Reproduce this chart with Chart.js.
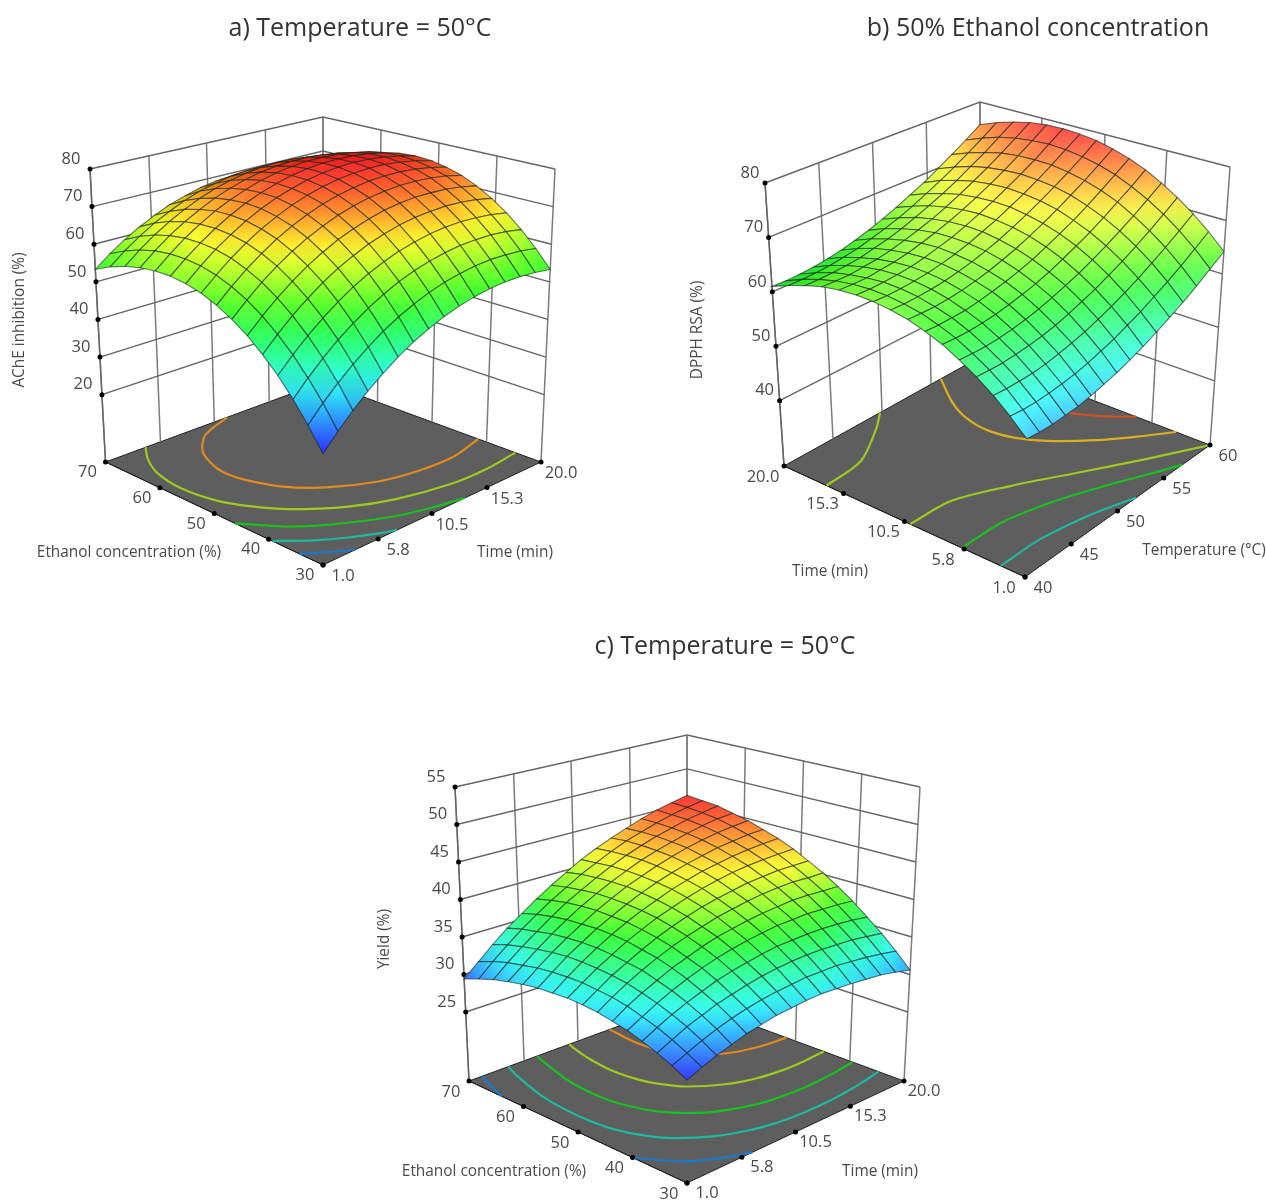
<!DOCTYPE html>
<html>
<head>
<meta charset="utf-8">
<title>Response surfaces</title>
<script src="https://cdn.jsdelivr.net/npm/chart.js@4"></script>
<style>
  html, body { margin: 0; background: #fff; }
  #page { position: relative; width: 1266px; height: 1200px; overflow: hidden; filter: blur(0.6px); }
  #page canvas { position: absolute; }
  .title { position: absolute; transform: translateX(-50%); white-space: nowrap;
           font: 25px 'Open Sans', sans-serif; color: #333; }
</style>
</head>
<body>
<div id="page">
  <div class="title" style="left:360px;top:9px">a) Temperature = 50°C</div>
  <div class="title" style="left:1038px;top:9px">b) 50% Ethanol concentration</div>
  <div class="title" style="left:725px;top:627px">c) Temperature = 50°C</div>
  <canvas id="chartA" width="640" height="520" style="left:0;top:80px"></canvas>
  <canvas id="chartB" width="626" height="530" style="left:640px;top:80px"></canvas>
  <canvas id="chartC" width="640" height="480" style="left:350px;top:720px"></canvas>
</div>
<script>
// --- axis nodes of the surface mesh ---
const gridTime = [1,2.27,3.53,4.8,6.07,7.33,8.6,9.87,11.13,12.4,13.67,14.93,16.2,17.47,18.73,20];
const gridEthanol = [30,32.67,35.33,38,40.67,43.33,46,48.67,51.33,54,56.67,59.33,62,64.67,67.33,70];
const gridTemperature = [40,41.33,42.67,44,45.33,46.67,48,49.33,50.67,52,53.33,54.67,56,57.33,58.67,60];

// --- tick values and labels ---
const timeTicks = [1,5.8,10.5,15.3,20];
const timeTickLabels = ['1.0','5.8','10.5','15.3','20.0'];
const ethanolTicks = [30,40,50,60,70];
const temperatureTicks = [40,45,50,55,60];
const achTicks = [20,30,40,50,60,70,80];
const dpphTicks = [40,50,60,70,80];
const yieldTicks = [25,30,35,40,45,50,55];

// --- a) AChE inhibition (%): one row per ethanol node, one column per time node ---
const achInhibition = [
[28.5,32.4,36,39.3,42.2,44.9,47.2,49.1,50.8,52.1,53.1,53.8,54.2,54.2,53.9,53.3],
[33.9,37.8,41.3,44.5,47.4,50,52.2,54.1,55.7,57,57.9,58.6,58.9,58.8,58.5,57.8],
[38.7,42.5,46,49.2,52,54.5,56.7,58.6,60.1,61.3,62.2,62.8,63,63,62.6,61.8],
[43.1,46.8,50.2,53.3,56.1,58.6,60.7,62.5,64,65.1,66,66.5,66.7,66.5,66.1,65.3],
[46.8,50.5,53.9,56.9,59.7,62.1,64.1,65.9,67.3,68.4,69.2,69.6,69.8,69.6,69.1,68.2],
[50.1,53.7,57,60,62.7,65,67.1,68.7,70.1,71.2,71.9,72.3,72.3,72.1,71.5,70.6],
[52.8,56.4,59.7,62.6,65.2,67.5,69.4,71.1,72.4,73.4,74,74.4,74.4,74.1,73.5,72.5],
[55,58.5,61.7,64.6,67.2,69.4,71.3,72.9,74.1,75,75.7,75.9,75.9,75.5,74.8,73.8],
[56.7,60.1,63.3,66.1,68.6,70.7,72.6,74.1,75.3,76.2,76.7,77,76.9,76.4,75.7,74.6],
[57.8,61.2,64.3,67,69.5,71.6,73.4,74.8,76,76.8,77.3,77.5,77.3,76.8,76,74.9],
[58.4,61.7,64.7,67.4,69.8,71.9,73.6,75,76.1,76.9,77.3,77.4,77.2,76.7,75.8,74.6],
[58.4,61.7,64.7,67.3,69.7,71.6,73.3,74.7,75.7,76.4,76.8,76.8,76.6,76,75.1,73.8],
[57.9,61.2,64.1,66.7,68.9,70.9,72.5,73.8,74.8,75.4,75.7,75.7,75.4,74.8,73.8,72.5],
[56.9,60.1,63,65.5,67.7,69.6,71.2,72.4,73.3,73.9,74.2,74.1,73.7,73,72,70.6],
[55.4,58.5,61.3,63.8,65.9,67.8,69.3,70.4,71.3,71.8,72,71.9,71.5,70.7,69.6,68.2],
[53.3,56.4,59.1,61.5,63.6,65.4,66.8,68,68.8,69.2,69.4,69.2,68.7,67.9,66.8,65.3]
];

// --- b) DPPH RSA (%): one row per time node, one column per temperature node ---
const dpphRsa = [
[51.1,50.9,50.9,51.1,51.3,51.8,52.4,53.1,54,55,56.2,57.5,58.9,60.5,62.3,64.2],
[53.8,53.6,53.6,53.8,54.1,54.5,55.1,55.9,56.7,57.8,58.9,60.3,61.7,63.3,65.1,67],
[56.2,56.1,56.1,56.2,56.5,57,57.6,58.3,59.2,60.2,61.4,62.7,64.2,65.8,67.6,69.5],
[58.3,58.2,58.2,58.4,58.7,59.1,59.7,60.5,61.4,62.4,63.6,64.9,66.4,68,69.8,71.7],
[60.1,60,60,60.2,60.5,61,61.6,62.4,63.3,64.3,65.5,66.8,68.3,69.9,71.7,73.6],
[61.7,61.6,61.6,61.8,62.1,62.6,63.2,63.9,64.8,65.9,67.1,68.4,69.9,71.6,73.3,75.3],
[62.9,62.8,62.9,63,63.4,63.9,64.5,65.2,66.1,67.2,68.4,69.7,71.2,72.9,74.7,76.6],
[63.9,63.8,63.8,64,64.3,64.8,65.4,66.2,67.1,68.2,69.4,70.8,72.3,73.9,75.7,77.6],
[64.5,64.4,64.5,64.7,65,65.5,66.1,66.9,67.8,68.9,70.1,71.5,73,74.6,76.4,78.4],
[64.9,64.8,64.9,65.1,65.4,65.9,66.5,67.3,68.3,69.3,70.6,71.9,73.4,75.1,76.9,78.8],
[65,64.9,65,65.2,65.5,66,66.7,67.4,68.4,69.5,70.7,72.1,73.6,75.2,77.1,79],
[64.8,64.7,64.7,65,65.3,65.8,66.5,67.3,68.2,69.3,70.5,71.9,73.4,75.1,76.9,78.9],
[64.3,64.2,64.2,64.5,64.8,65.3,66,66.8,67.7,68.8,70.1,71.5,73,74.7,76.5,78.5],
[63.4,63.4,63.5,63.7,64,64.6,65.2,66,67,68.1,69.3,70.7,72.3,73.9,75.8,77.7],
[62.3,62.3,62.4,62.6,63,63.5,64.2,65,65.9,67,68.3,69.7,71.2,72.9,74.7,76.7],
[61,60.9,61,61.2,61.6,62.1,62.8,63.6,64.6,65.7,67,68.3,69.9,71.6,73.4,75.4]
];

// --- c) Yield (%): one row per ethanol node, one column per time node ---
const yieldPct = [
[28.1,28.9,29.6,30.2,30.8,31.2,31.6,31.8,32,32.1,32,31.9,31.7,31.5,31.1,30.6],
[29.1,29.9,30.7,31.4,32,32.5,32.9,33.2,33.4,33.6,33.6,33.6,33.4,33.2,32.9,32.5],
[29.9,30.8,31.7,32.4,33.1,33.6,34.1,34.5,34.8,35,35.1,35.1,35,34.9,34.6,34.3],
[30.6,31.6,32.5,33.3,34,34.7,35.2,35.6,36,36.3,36.4,36.5,36.5,36.4,36.2,35.9],
[31.2,32.2,33.2,34.1,34.9,35.6,36.2,36.7,37.1,37.4,37.7,37.8,37.9,37.8,37.7,37.5],
[31.6,32.8,33.8,34.7,35.6,36.3,37,37.6,38,38.4,38.7,38.9,39.1,39.1,39,38.9],
[32,33.2,34.3,35.3,36.2,37,37.7,38.3,38.9,39.3,39.7,40,40.2,40.3,40.2,40.2],
[32.2,33.4,34.6,35.6,36.6,37.5,38.3,39,39.6,40.1,40.5,40.9,41.1,41.3,41.3,41.3],
[32.3,33.6,34.8,35.9,37,37.9,38.8,39.5,40.2,40.8,41.3,41.7,42,42.2,42.3,42.4],
[32.2,33.6,34.9,36.1,37.2,38.2,39.1,39.9,40.7,41.3,41.9,42.3,42.7,43,43.2,43.3],
[32.1,33.5,34.9,36.1,37.3,38.3,39.3,40.2,41,41.7,42.3,42.8,43.3,43.6,43.9,44],
[31.8,33.3,34.7,36,37.2,38.4,39.4,40.4,41.2,42,42.7,43.3,43.8,44.2,44.5,44.7],
[31.4,32.9,34.4,35.8,37.1,38.3,39.4,40.4,41.3,42.2,42.9,43.5,44.1,44.6,45,45.2],
[30.9,32.5,34,35.4,36.8,38.1,39.2,40.3,41.3,42.2,43,43.7,44.3,44.9,45.3,45.7],
[30.2,31.9,33.5,35,36.4,37.7,38.9,40.1,41.1,42.1,43,43.7,44.4,45,45.5,45.9],
[29.4,31.1,32.8,34.4,35.8,37.2,38.5,39.7,40.9,41.9,42.8,43.6,44.4,45.1,45.6,46.1]
];

// --- floor contours as [first axis, second axis] ---
const achContour1 = [[1,34.3],[1.95,32.8],[2.9,31.3],[3.85,30.1]];
const achContour2 = [[1,39.3],[2.9,35.7],[4.8,32.9],[6.7,30.7],[7.46,30]];
const achContour3 = [[1,46.2],[2.9,41.2],[4.8,37.8],[8.6,33.1],[11.45,31],[13.35,30]];
const achContour4 = [[4.5,70],[3.4,67.3],[2.4,63.5],[1.95,58],[2.4,52.3],[3.4,48.2],[4.8,44.3],[7.65,39.4],[10.5,36.4],[14.3,34.3],[17.15,34],[20,34.7]];
const achContour5 = [[11.6,70],[8.6,67.7],[6.7,64.1],[5.75,59.9],[5.56,57.2],[5.75,54.5],[6.7,49.9],[8.6,45.5],[11.45,41.9],[14.3,40.3],[17.15,40],[20,41.5]];

const dpphContour1 = [[40,2.9],[44,2.87],[48,2.22],[50,1.67],[52,1]];
const dpphContour2 = [[40,5.96],[44,5.9],[48,4.97],[52,3.4],[56,1.47],[57,1]];
const dpphContour3 = [[40,10.05],[44,9.84],[48,8.12],[52,5.85],[56,3.42],[60,1]];
const dpphContour3b = [[40,16.65],[44,17],[48,18.88],[49.8,20]];
const dpphContour4 = [[56,20],[54,17.47],[53,15.6],[52.6,13.59],[53,11.54],[54,9.76],[56,7.4],[58,5.53],[60,3.8]];
const dpphContour5 = [[60,7.11],[59,8.46],[58,10.25],[57.5,11.45],[57.2,13.64],[57.5,15.9],[58,17.13],[59,18.96],[59.6,20]];

const yieldContour1 = [[1,39.8],[2.9,34.6],[4.8,31.8],[6.7,30]];
const yieldContour1b = [[2.14,70],[1.48,66.7],[1,63.9]];
const yieldContour2 = [[4.42,70],[3.85,67.1],[2.9,60.3],[2.62,53.6],[2.9,47.5],[3.85,42.7],[4.8,40],[6.7,36.8],[8.6,34.9],[10.5,33.8],[12.4,33.3],[14.3,33.2],[16.2,33.4],[18.1,33.9],[20,34.7]];
const yieldContour3 = [[6.94,70],[6.7,68.7],[5.75,61.5],[5.56,56.7],[5.75,52.4],[6.7,47.1],[8.6,42.7],[10.5,40.5],[12.4,39.2],[14.3,38.7],[16.2,38.6],[18.1,38.9],[20,39.5]];
const yieldContour4 = [[9.74,70],[9.55,68.9],[9.08,65],[8.84,60.4],[9.08,55.9],[9.55,53.1],[10.5,50],[12.4,46.9],[14.3,45.3],[16.2,44.6],[18.1,44.5],[20,44.8]];
const yieldContour5 = [[13.26,70],[12.97,64.4],[13.35,59.3],[14.3,56.1],[16.2,53.3],[18.1,52.1],[20,51.7]];

// --- colours ---
const BLUE_C = '#1c78c8', TEAL_C = '#1fb8a0', GREEN_C = '#18c020', LIME_C = '#a0c820', GOLD_C = '#d8b020', ORANGE_C = '#e08a20', RED_C = '#d85020';
const RAMP = [[0,0,255],[0,255,255],[0,255,0],[255,255,0],[255,0,0]];

// page-pixel frame of each box (corners of floor and lid), style only
const panels = [
  {
    canvas: 'chartA', left: 0, top: 80, width: 640, height: 520,
    xGrid: gridTime, yGrid: gridEthanol, surface: achInhibition,
    xTicks: timeTicks, xTickLabels: timeTickLabels, yTicks: ethanolTicks, yTickLabels: ethanolTicks.map(String),
    zTicks: achTicks, zFloor: 2.1, zTop: 80, colorMin: 28.5, colorMax: 77.5, gloss: 0.18,
    floor: { front: [323,565], right: [541,462], back: [323,382], left: [105.5,462] },
    lid:   { front: [323,237], right: [555,169], back: [323,117], left: [90,169] },
    contours: [[achContour1,BLUE_C],[achContour2,TEAL_C],[achContour3,GREEN_C],[achContour4,LIME_C],[achContour5,ORANGE_C]],
    leftOffset: [-18,10.5], rightOffset: [20,11.5], zOffset: [-19,-10],
    titles: [['Ethanol concentration (%)',129,553,0],['Time (min)',515,553,0],['AChE inhibition (%)',20,320,-90]]
  },
  {
    canvas: 'chartB', left: 640, top: 80, width: 626, height: 530,
    xGrid: gridTemperature, yGrid: gridTime, surface: dpphRsa,
    xTicks: temperatureTicks, xTickLabels: temperatureTicks.map(String), yTicks: timeTicks, yTickLabels: timeTickLabels,
    zTicks: dpphTicks, zFloor: 28, zTop: 80, colorMin: 45, colorMax: 79, gloss: 0.3,
    floor: { front: [1025,577], right: [1210,445], back: [980,357], left: [784,466] },
    lid:   { front: [1029,266], right: [1230,167], back: [980,102], left: [765,183] },
    contours: [[dpphContour1,TEAL_C],[dpphContour2,GREEN_C],[dpphContour3,LIME_C],[dpphContour3b,LIME_C],[dpphContour4,GOLD_C],[dpphContour5,RED_C]],
    leftOffset: [-21,11], rightOffset: [18,11], zOffset: [-15,-10],
    titles: [['Time (min)',830,572,0],['Temperature (°C)',1204,551,0],['DPPH RSA (%)',698,330,-90]]
  },
  {
    canvas: 'chartC', left: 350, top: 720, width: 640, height: 480,
    xGrid: gridTime, yGrid: gridEthanol, surface: yieldPct,
    xTicks: timeTicks, xTickLabels: timeTickLabels, yTicks: ethanolTicks, yTickLabels: ethanolTicks.map(String),
    zTicks: yieldTicks, zFloor: 15.8, zTop: 55, colorMin: 28.1, colorMax: 46.1, gloss: 0.22,
    floor: { front: [687,1183], right: [904,1081], back: [687,1001], left: [469,1081] },
    lid:   { front: [687,855], right: [920,787], back: [687,735], left: [455,787] },
    contours: [[yieldContour1,BLUE_C],[yieldContour1b,BLUE_C],[yieldContour2,TEAL_C],[yieldContour3,GREEN_C],[yieldContour4,LIME_C],[yieldContour5,ORANGE_C]],
    leftOffset: [-18,11], rightOffset: [20,10.5], zOffset: [-19,-10],
    titles: [['Ethanol concentration (%)',494,1172,0],['Time (min)',880,1172,0],['Yield (%)',385,939,-90]]
  }
];

// ─── Helpers ───
function bilinear(q, u, v, k) {
  return q.front[k]*(1-u)*(1-v) + q.right[k]*u*(1-v) + q.left[k]*(1-u)*v + q.back[k]*u*v;
}

// value triple -> point in the hidden page-pixel scales
function project(p, xVal, yVal, zVal) {
  const xs = p.xGrid, ys = p.yGrid;
  const u = (xVal - xs[0]) / (xs[xs.length-1] - xs[0]);
  const v = (yVal - ys[0]) / (ys[ys.length-1] - ys[0]);
  const w = (zVal - p.zFloor) / (p.zTop - p.zFloor);
  const fx = bilinear(p.floor,u,v,0), fy = bilinear(p.floor,u,v,1);
  return { x: fx + w*(bilinear(p.lid,u,v,0)-fx), y: fy + w*(bilinear(p.lid,u,v,1)-fy) };
}

function polyArea(pts) {
  let a = 0;
  for (let i = 0; i < pts.length-1; i++) a += pts[i].x*pts[i+1].y - pts[i+1].x*pts[i].y;
  return Math.abs(a)/2;
}

function rampColor(t, lit, gloss) {
  const s = Math.max(0, Math.min(0.9999, t)) * (RAMP.length-1);
  const i = Math.floor(s), f = s - i;
  const rgb = RAMP[i].map((c,k) => c + (RAMP[i+1][k]-c)*f);
  const out = rgb.map(c => {
    const d = c*(0.8 + 0.2*lit);
    return Math.round(d + (255-d)*gloss*lit);
  });
  return `rgb(${out[0]},${out[1]},${out[2]})`;
}

function line(data, color, width, extra) {
  return Object.assign({ data, borderColor: color, borderWidth: width, pointRadius: 0, fill: false, clip: false, tension: 0 }, extra);
}

// ─── Build one panel's datasets, back to front ───
function buildDatasets(p, ctx) {
  const xs = p.xGrid, ys = p.yGrid, xMin = xs[0], xMax = xs[xs.length-1], yMin = ys[0], yMax = ys[ys.length-1];
  const list = [];
  const onFloor = (a,b) => project(p,a,b,p.zFloor);

  // floor
  const floorPts = [onFloor(xMin,yMin),onFloor(xMax,yMin),onFloor(xMax,yMax),onFloor(xMin,yMax),onFloor(xMin,yMin)];
  list.push(line(floorPts,'#222',1,{ fill:'shape', backgroundColor:'#5e5e5e' }));

  // back walls
  const wall = '#7c7c7c';
  p.xTicks.forEach(t => list.push(line([onFloor(t,yMax), project(p,t,yMax,p.zTop)], wall, 1.5)));
  p.yTicks.forEach(t => list.push(line([onFloor(xMax,t), project(p,xMax,t,p.zTop)], wall, 1.5)));
  p.zTicks.forEach(z => list.push(line([project(p,xMin,yMax,z), project(p,xMax,yMax,z), project(p,xMax,yMin,z)], '#666', 1.4)));
  list.push(line([onFloor(xMin,yMin), project(p,xMin,yMax,p.zFloor)], '#222', 1));
  list.push(line([onFloor(xMin,yMax), project(p,xMin,yMax,p.zTop)], '#666', 1.4));

  // contours on the floor
  p.contours.forEach(([pts,color]) => {
    list.push(line(pts.map(c => onFloor(c[0],c[1])), color, 2.2, { tension: 0.3 }));
  });

  // tick marks
  const dots = p.zTicks.map(z => project(p,xMin,yMax,z));
  p.xTicks.forEach(t => dots.push(onFloor(t,yMin)));
  p.yTicks.forEach(t => dots.push(onFloor(xMin,t)));
  list.push(line(dots,'#000',0,{ showLine:false, pointRadius:2.5, pointBackgroundColor:'#000', pointBorderWidth:0 }));

  // surface cells, far corner first; colour runs from the lowest to the highest corner
  const cells = [];
  for (let j = 0; j < ys.length-1; j++) for (let i = 0; i < xs.length-1; i++) cells.push([i,j]);
  cells.sort((a,b) => (b[0]+b[1]) - (a[0]+a[1]));
  const toRamp = v => (v-p.colorMin)/(p.colorMax-p.colorMin);
  cells.forEach(([i,j]) => {
    const z = p.surface;
    const vals = [z[j][i], z[j][i+1], z[j+1][i+1], z[j+1][i]];
    const pts = [project(p,xs[i],ys[j],vals[0]), project(p,xs[i+1],ys[j],vals[1]),
                 project(p,xs[i+1],ys[j+1],vals[2]), project(p,xs[i],ys[j+1],vals[3])];
    const lo = vals.indexOf(Math.min(...vals)), hi = vals.indexOf(Math.max(...vals));
    const grad = ctx.createLinearGradient(pts[lo].x-p.left, pts[lo].y-p.top, pts[hi].x-p.left, pts[hi].y-p.top);
    pts.push(pts[0]);
    const flat = [onFloor(xs[i],ys[j]),onFloor(xs[i+1],ys[j]),onFloor(xs[i+1],ys[j+1]),onFloor(xs[i],ys[j+1])];
    flat.push(flat[0]);
    const lit = Math.min(1, polyArea(pts)/polyArea(flat));
    grad.addColorStop(0, rampColor(toRamp(vals[lo]),lit,p.gloss));
    grad.addColorStop(1, rampColor(toRamp(vals[hi]),lit,p.gloss));
    list.push(line(pts,'rgba(25,35,30,0.62)',1.1,{ fill:'shape', backgroundColor: grad }));
  });

  // chart.js paints dataset 0 last
  return list.reverse();
}

// ─── Tick labels and axis titles ───
function labelPlugin(p) {
  return {
    id: 'panelLabels',
    afterDraw(chart) {
      const { ctx, scales } = chart;
      const put = (text, x, y, angle) => {
        ctx.save();
        ctx.translate(scales.x.getPixelForValue(x), scales.y.getPixelForValue(y));
        if (angle) ctx.rotate(angle*Math.PI/180);
        ctx.fillText(text, 0, 0);
        ctx.restore();
      };
      const xs = p.xGrid, ys = p.yGrid, xMin = xs[0], yMin = ys[0], yMax = ys[ys.length-1];
      ctx.save();
      ctx.fillStyle = '#4a4a4a';
      ctx.textAlign = 'center';
      ctx.textBaseline = 'middle';
      ctx.font = "16.5px 'Open Sans', sans-serif";
      p.zTicks.forEach(z => {
        const q = project(p,xMin,yMax,z);
        put(String(z), q.x+p.zOffset[0], q.y+p.zOffset[1]);
      });
      p.yTicks.forEach((t,i) => {
        const q = project(p,xMin,t,p.zFloor);
        put(p.yTickLabels[i], q.x+p.leftOffset[0], q.y+p.leftOffset[1]);
      });
      p.xTicks.forEach((t,i) => {
        const q = project(p,t,yMin,p.zFloor);
        put(p.xTickLabels[i], q.x+p.rightOffset[0], q.y+p.rightOffset[1]);
      });
      ctx.font = "15.4px 'Open Sans', sans-serif";
      p.titles.forEach(([text,x,y,angle]) => put(text,x,y,angle));
      ctx.restore();
    }
  };
}

panels.forEach(p => {
  const canvas = document.getElementById(p.canvas);
  new Chart(canvas, {
    type: 'line',
    data: { datasets: buildDatasets(p, canvas.getContext('2d')) },
    plugins: [labelPlugin(p)],
    options: {
      responsive: false,
      animation: false,
      events: [],
      layout: { autoPadding: false, padding: 0 },
      plugins: { legend: { display: false }, tooltip: { enabled: false } },
      scales: {
        x: { type: 'linear', display: false, min: p.left, max: p.left + p.width },
        y: { type: 'linear', display: false, reverse: true, min: p.top, max: p.top + p.height }
      }
    }
  });
});
</script>
</body>
</html>
